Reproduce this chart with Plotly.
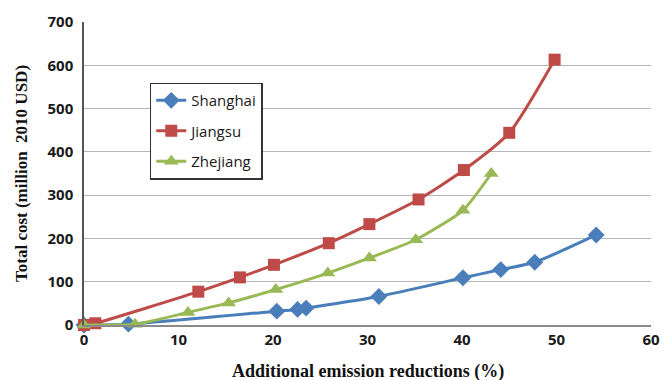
import plotly.graph_objects as go

shanghai_x = [0, 4.7, 20.4, 22.6, 23.5, 31.2, 40.1, 44.1, 47.7, 54.2]
shanghai_y = [0, 2, 32, 36, 39, 66, 109, 128, 145, 208]
jiangsu_x = [0, 1.2, 12.1, 16.5, 20.1, 25.9, 30.2, 35.4, 40.2, 45.0, 49.8]
jiangsu_y = [0, 4, 77, 110, 139, 189, 233, 290, 358, 444, 613]
zhejiang_x = [0, 5.4, 11.0, 15.3, 20.3, 25.8, 30.2, 35.1, 40.1, 43.1]
zhejiang_y = [0, 2, 29, 51, 82, 120, 155, 197, 265, 350]

x_ticks = [0, 10, 20, 30, 40, 50, 60]
y_ticks = [0, 100, 200, 300, 400, 500, 600, 700]

fig = go.Figure()
series = [
    ("Shanghai", shanghai_x, shanghai_y, "#4A7EBB", "diamond", 13),
    ("Jiangsu", jiangsu_x, jiangsu_y, "#BE4B48", "square", 12),
    ("Zhejiang", zhejiang_x, zhejiang_y, "#98B954", "triangle-up", 13),
]
for i, (name, xs, ys, col, sym, sz) in enumerate(series):
    fig.add_trace(go.Scatter(
        x=xs, y=ys, name=name, mode="lines+markers",
        line=dict(color=col, width=3, shape="spline", smoothing=0.6),
        marker=dict(symbol=sym, size=sz, color=col),
        legendgroup=f"g{i}", cliponaxis=False,
    ))

tick_font = dict(family="Open Sans", size=15, color="#1a1a1a", weight="bold")

fig.update_layout(
    width=662, height=380,
    margin=dict(l=84, r=11, t=22, b=55),
    paper_bgcolor="white", plot_bgcolor="white",
    font=dict(family="Open Sans", size=14, color="#222"),
    legend=dict(
        x=0.116, y=0.80, xanchor="left", yanchor="top",
        bordercolor="#333", borderwidth=1.5, bgcolor="white",
        font=dict(family="Open Sans", size=15, color="#1a1a1a"),
        tracegroupgap=8,
    ),
    showlegend=True,
    annotations=[dict(
        text="<b>Additional emission reductions (%)</b>",
        xref="paper", yref="paper", x=0.5, y=-0.155,
        xanchor="center", yanchor="middle", showarrow=False,
        font=dict(family="Liberation Serif", size=18, color="#111"),
    )],
)
fig.update_xaxes(
    range=[0, 60], tickvals=x_ticks, showgrid=False, zeroline=False,
    showline=True, linecolor="#8a8a8a", linewidth=1.5,
    ticks="", tickfont=tick_font, automargin=False,
)
fig.update_yaxes(
    range=[0, 700], tickvals=y_ticks, showgrid=True, gridcolor="#b8b8b8", gridwidth=1,
    zeroline=False, showline=True, linecolor="#555", linewidth=1.5,
    ticks="", tickfont=tick_font, automargin=False, ticklabelstandoff=6,
    title=dict(text="<b>Total cost (million  2010 USD)</b>",
               font=dict(family="Liberation Serif", size=17, color="#111"), standoff=16),
)
fig.write_html(
    "out.html",
    config={"displayModeBar": False},
    post_script="document.body.style.margin='0';document.body.style.overflow='hidden';",
)
